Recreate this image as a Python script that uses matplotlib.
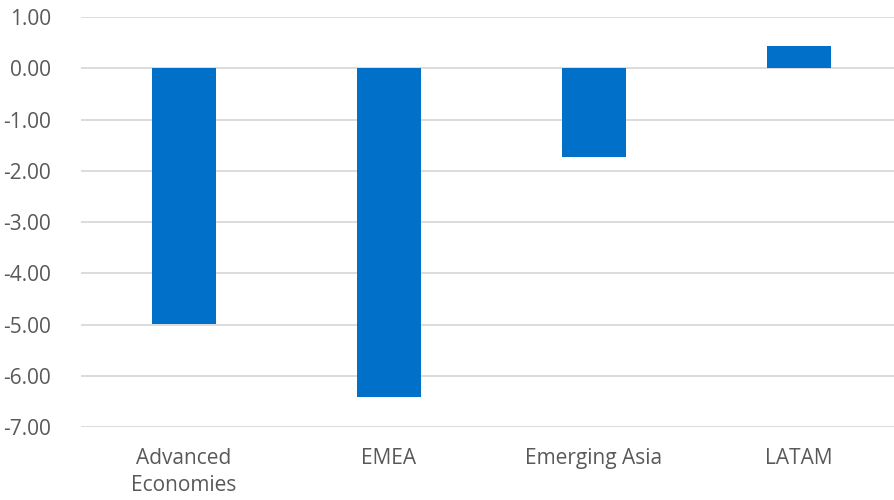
import matplotlib
matplotlib.use("Agg")
import matplotlib.pyplot as plt
import numpy as np

categories = ["Advanced\nEconomies", "EMEA", "Emerging Asia", "LATAM"]
values = [-4.98, -6.41, -1.73, 0.43]
yticks = [1.0, 0.0, -1.0, -2.0, -3.0, -4.0, -5.0, -6.0, -7.0]

plt.rcParams['font.family'] = ['Open Sans', 'DejaVu Sans']

fig = plt.figure(figsize=(8.95, 5.0), dpi=100)
W, H = 895, 500
left, right = 81.3, 901.3
top, bottom = 17.0, 427.3
ax = fig.add_axes([left / W, (H - bottom) / H, (right - left) / W, (bottom - top) / H])

x = np.arange(len(categories))
ax.bar(x, values, width=0.314, color="#0070C8", zorder=3)
ax.set_xlim(-0.5, len(categories) - 0.5)
ax.set_ylim(-7, 1)
ax.set_yticks(yticks)
ax.set_yticklabels([f"{v:.2f}" for v in yticks])
ax.set_xticks(x)
ax.set_xticklabels(categories, linespacing=1.38)
ax.grid(axis="y", color="#d9d9d9", linewidth=1.3, zorder=0)
for s in ax.spines.values():
    s.set_visible(False)
ax.tick_params(axis="both", length=0, colors="#595959", labelsize=15)
ax.tick_params(axis="y", pad=22)
ax.tick_params(axis="x", pad=15)

fig.savefig("out.png", dpi=100)
